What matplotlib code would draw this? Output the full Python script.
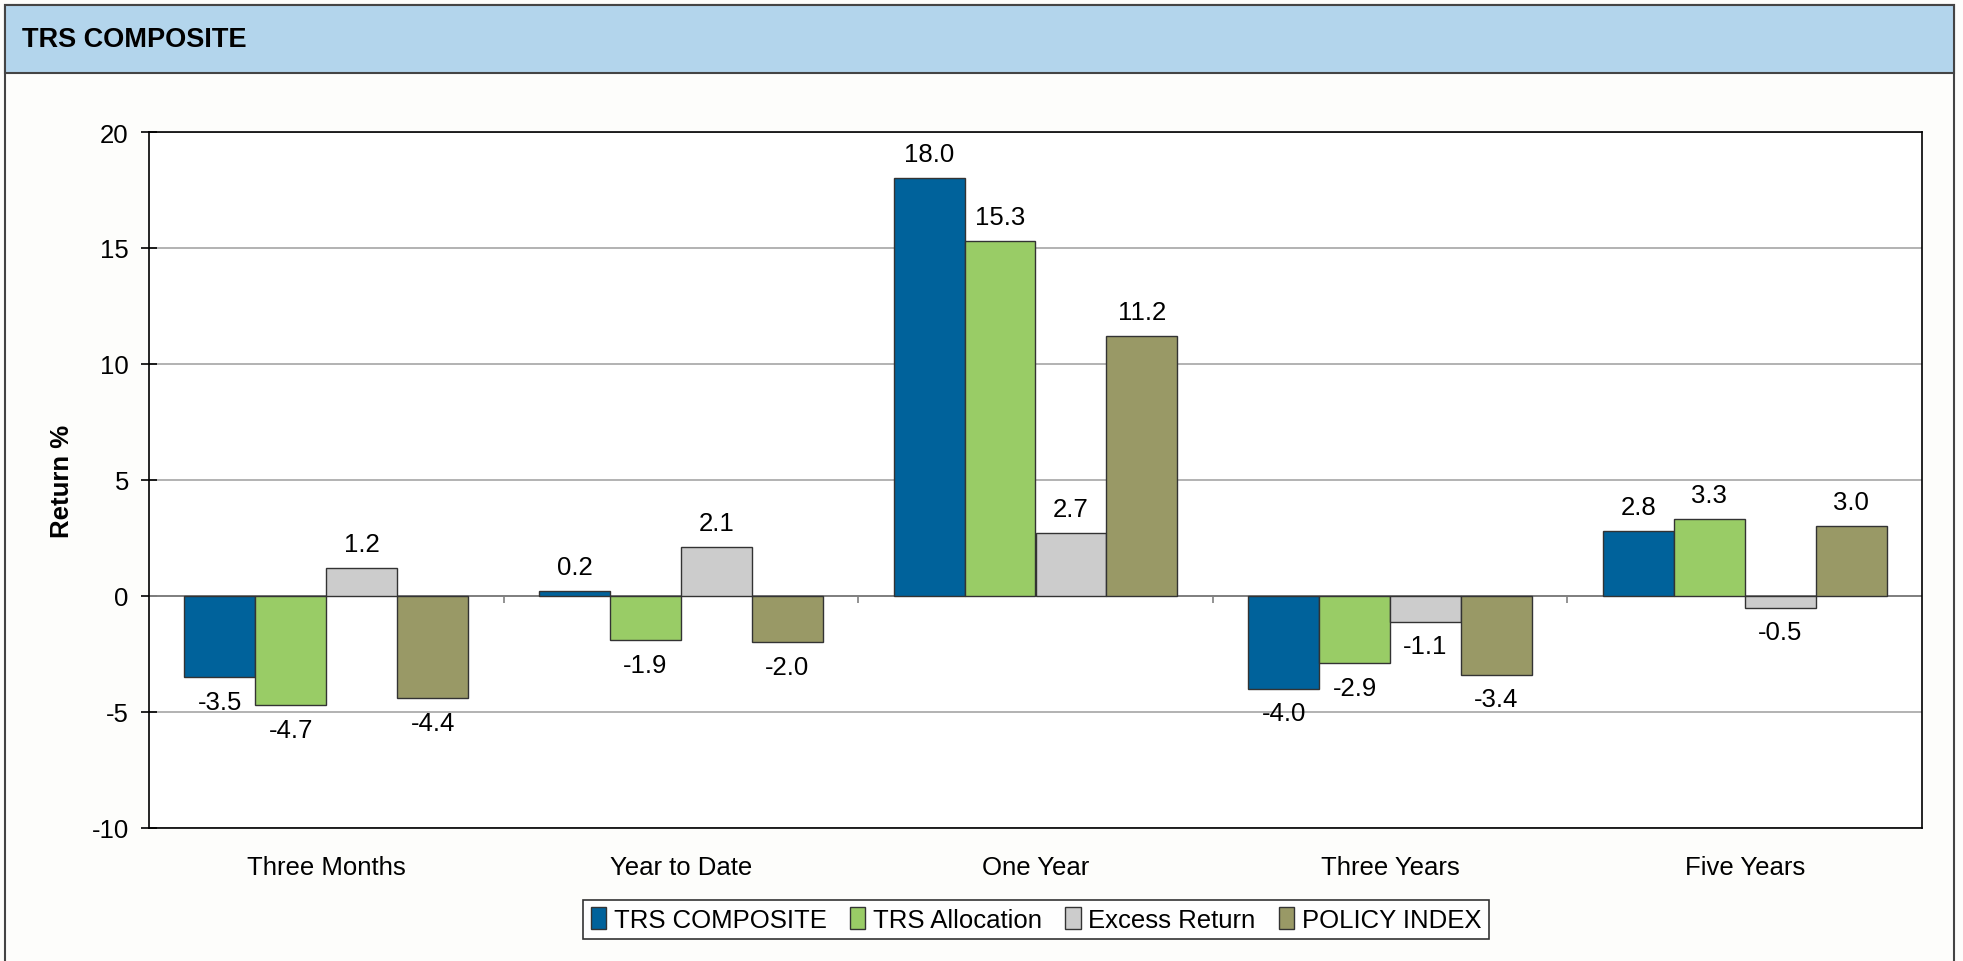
import numpy as np
import matplotlib
matplotlib.use("Agg")
import matplotlib.pyplot as plt
from matplotlib.patches import Rectangle

plt.rcParams["font.family"] = ["Liberation Sans", "DejaVu Sans"]
plt.rcParams["axes.unicode_minus"] = False

# Daten
categories = ["Three Months", "Year to Date", "One Year", "Three Years", "Five Years"]
series_names = ["TRS COMPOSITE", "TRS Allocation", "Excess Return", "POLICY INDEX"]
trs_composite = [-3.5, 0.2, 18.0, -4.0, 2.8]
trs_allocation = [-4.7, -1.9, 15.3, -2.9, 3.3]
excess_return = [1.2, 2.1, 2.7, -1.1, -0.5]
policy_index = [-4.4, -2.0, 11.2, -3.4, 3.0]
colors = ["#00629B", "#99CC66", "#CCCCCC", "#999966"]

W, H = 1963, 962
FS = 18.5
fig = plt.figure(figsize=(W / 100, H / 100), dpi=100)
fig.patch.set_facecolor("#FDFDFB")

# Rahmen + Kopfzeile
fig.patches.append(Rectangle((5 / W, -0.05), 1949 / W, 1.05 - 6 / H,
                             transform=fig.transFigure, facecolor="none",
                             edgecolor="#444444", lw=1.5))
fig.patches.append(Rectangle((5 / W, 1 - 74 / H), 1949 / W, 68 / H,
                             transform=fig.transFigure, facecolor="#B3D5EC",
                             edgecolor="#444444", lw=1.5))
fig.text(22 / W, 1 - 40 / H, "TRS COMPOSITE", fontsize=19.5, fontweight="bold",
         va="center", ha="left")

ax = fig.add_axes([149 / W, 133 / H, 1773 / W, 696 / H])
ax.set_facecolor("white")

x = np.arange(len(categories))
width = 0.2
all_series = [trs_composite, trs_allocation, excess_return, policy_index]
for i, (vals, name, c) in enumerate(zip(all_series, series_names, colors)):
    bars = ax.bar(x + (i - 1.5) * width, vals, width, color=c, edgecolor="#333333",
                  linewidth=1.0, label=name, zorder=3)
    ax.bar_label(bars, fmt="%.1f", padding=9, fontsize=FS)

ax.set_xlim(-0.5, len(categories) - 0.5)
ax.set_ylim(-10, 20)
ax.set_yticks(np.arange(-10, 21, 5))
ax.yaxis.grid(True, color="#A6A6A6", lw=1.2, zorder=0)
ax.axhline(0, color="#808080", lw=1.4, zorder=2)
ax.tick_params(axis="y", direction="inout", length=11, width=1.2, pad=9, labelsize=FS)
ax.set_xticks(x)
ax.set_xticklabels(categories)
ax.tick_params(axis="x", length=0, pad=19.5, labelsize=FS)
# Trennstriche zwischen Kategorien auf der Nulllinie
ax.vlines(x[:-1] + 0.5, 0, -0.3, color="#808080", lw=1.2, zorder=2)

for s in ax.spines.values():
    s.set_color("black")
    s.set_linewidth(1.2)

ax.set_ylabel("Return %", fontsize=FS, fontweight="bold")
ax.yaxis.set_label_coords(-0.0423, 0.5)

leg = fig.legend(loc="center", bbox_to_anchor=(1036 / W, 1 - 920.5 / H), ncol=4,
                 fontsize=FS, frameon=True, fancybox=False, edgecolor="black",
                 handlelength=0.6, handleheight=0.9, handletextpad=0.3,
                 columnspacing=0.9, borderpad=0.3)
leg.get_frame().set_linewidth(1.2)

fig.savefig("out.png", dpi=100, facecolor=fig.get_facecolor())
